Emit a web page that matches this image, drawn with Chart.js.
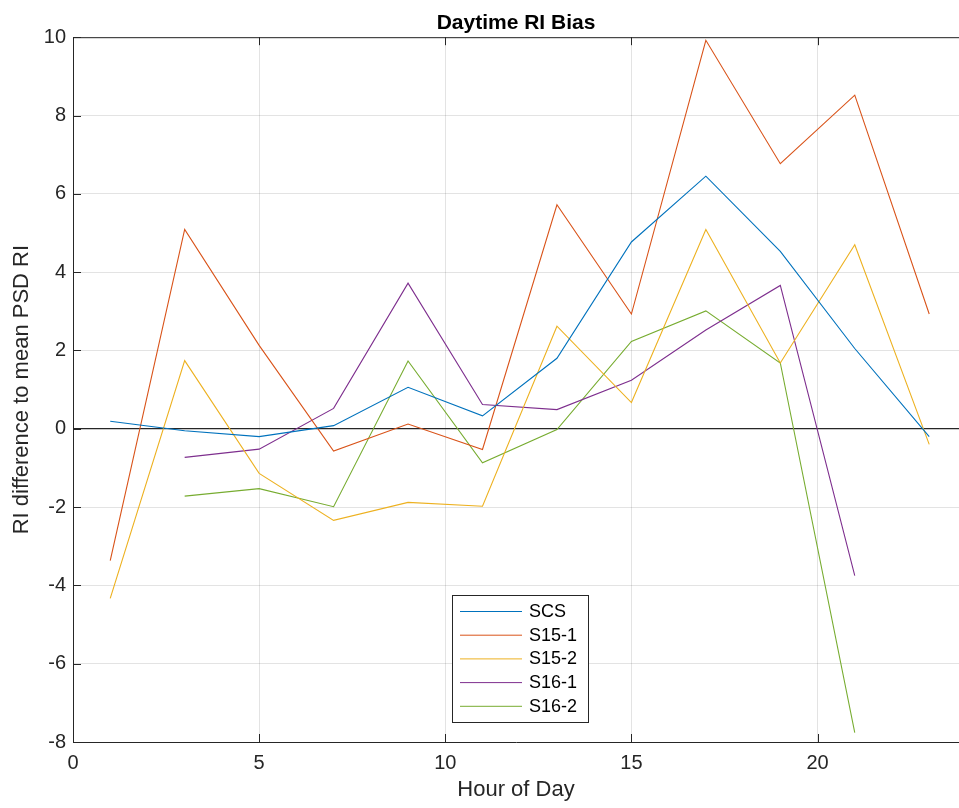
<!DOCTYPE html>
<html>
<head>
<meta charset="utf-8">
<script src="https://cdn.jsdelivr.net/npm/chart.js@4.4.1/dist/chart.umd.min.js"></script>
<style>
  html, body { margin: 0; padding: 0; background: #fff; }
  #wrap { width: 959px; height: 808px; }
</style>
</head>
<body>
<div id="wrap"><canvas id="myChart" width="959" height="808"></canvas></div>
<script>
// hours (x) and RI bias per sensor
const hours = [1, 3, 5, 7, 9, 11, 13, 15, 17, 19, 21, 23];
const scs = [0.19, -0.05, -0.2, 0.08, 1.06, 0.33, 1.8, 4.77, 6.45, 4.53, 2.05, -0.2];
const s15_1 = [-3.37, 5.09, 2.13, -0.57, 0.12, -0.53, 5.72, 2.93, 9.92, 6.77, 8.52, 2.93];
const s15_2 = [-4.33, 1.74, -1.14, -2.34, -1.88, -1.98, 2.62, 0.67, 5.09, 1.68, 4.7, -0.4];
const s16_1 = [null, -0.73, -0.52, 0.52, 3.72, 0.62, 0.49, 1.24, 2.52, 3.66, -3.75, null];
const s16_2 = [null, -1.72, -1.53, -1.99, 1.73, -0.87, -0.02, 2.23, 3.01, 1.68, -7.76, null];

const seriesNames = ["SCS", "S15-1", "S15-2", "S16-1", "S16-2"];
const seriesColors = ["#0072BD", "#D95319", "#EDB120", "#7E2F8E", "#77AC30"];

const xTicks = [0, 5, 10, 15, 20];
const yTicks = [-8, -6, -4, -2, 0, 2, 4, 6, 8, 10];

const axisColor = "#262626";
const gridColor = "rgba(38,38,38,0.13)";
const fontFamily = "'Liberation Sans', Arial, Helvetica, sans-serif";

function toPoints(vals) {
  const pts = [];
  vals.forEach((v, i) => {
    if (v !== null) pts.push({ x: hours[i], y: v });
  });
  return pts;
}

const allSeries = [scs, s15_1, s15_2, s16_1, s16_2];

// inward tick marks, top frame line and the legend box
const framePlugin = {
  id: "frame",
  afterDraw(chart) {
    const ctx = chart.ctx;
    const area = chart.chartArea;
    const xs = chart.scales.x;
    const ys = chart.scales.y;
    ctx.save();
    ctx.strokeStyle = axisColor;
    ctx.lineWidth = 1;
    ctx.beginPath();
    ctx.moveTo(area.left, area.top + 0.5);
    ctx.lineTo(area.right, area.top + 0.5);
    xTicks.forEach((t) => {
      const px = Math.round(xs.getPixelForValue(t)) + 0.5;
      ctx.moveTo(px, area.bottom);
      ctx.lineTo(px, area.bottom - 8);
      ctx.moveTo(px, area.top);
      ctx.lineTo(px, area.top + 8);
    });
    yTicks.forEach((t) => {
      const py = Math.round(ys.getPixelForValue(t)) + 0.5;
      ctx.moveTo(area.left, py);
      ctx.lineTo(area.left + 8, py);
    });
    ctx.stroke();

    // legend
    const lx = 452, ly = 595, lw = 136, lh = 127, row = 23.7;
    ctx.fillStyle = "#fff";
    ctx.fillRect(lx, ly, lw, lh);
    ctx.strokeStyle = axisColor;
    ctx.strokeRect(lx + 0.5, ly + 0.5, lw, lh);
    ctx.font = "18px " + fontFamily;
    ctx.textBaseline = "middle";
    ctx.textAlign = "left";
    chart.data.datasets.forEach((ds, i) => {
      const yy = ly + 16 + i * row;
      ctx.strokeStyle = ds.borderColor;
      ctx.lineWidth = 1;
      ctx.beginPath();
      ctx.moveTo(lx + 8, yy + 0.5);
      ctx.lineTo(lx + 70, yy + 0.5);
      ctx.stroke();
      ctx.fillStyle = "#000";
      ctx.fillText(ds.label, lx + 77, yy + 1);
    });
    ctx.restore();
  },
};

const ctx = document.getElementById("myChart").getContext("2d");

new Chart(ctx, {
  type: "scatter",
  data: {
    datasets: allSeries.map((vals, i) => ({
      label: seriesNames[i],
      data: toPoints(vals),
      showLine: true,
      borderColor: seriesColors[i],
      backgroundColor: seriesColors[i],
      borderWidth: 1.1,
      pointRadius: 0,
      pointHoverRadius: 0,
      tension: 0,
    })),
  },
  options: {
    responsive: false,
    animation: false,
    events: [],
    layout: { padding: { top: 6, right: 0, left: 0, bottom: 0 } },
    plugins: {
      legend: { display: false },
      tooltip: { enabled: false },
      title: {
        display: true,
        text: "Daytime RI Bias",
        fullSize: false,
        color: "#000",
        font: { family: fontFamily, size: 21, weight: "bold" },
        padding: { top: 5, bottom: 1 },
      },
    },
    scales: {
      x: {
        type: "linear",
        min: 0,
        max: 23.8,
        afterBuildTicks: (scale) => {
          scale.ticks = xTicks.map((v) => ({ value: v }));
        },
        afterFit: (scale) => {
          scale.height = 66;
        },
        grid: { color: gridColor, drawTicks: false },
        border: { color: axisColor, width: 1 },
        ticks: {
          color: axisColor,
          padding: 9,
          maxRotation: 0,
          font: { family: fontFamily, size: 20 },
        },
        title: {
          display: true,
          text: "Hour of Day",
          color: axisColor,
          padding: { top: 0, bottom: 5 },
          font: { family: fontFamily, size: 22 },
        },
      },
      y: {
        type: "linear",
        min: -8,
        max: 10,
        afterBuildTicks: (scale) => {
          scale.ticks = yTicks.map((v) => ({ value: v }));
        },
        afterFit: (scale) => {
          scale.width = 73;
        },
        grid: {
          color: (c) => (c.tick && c.tick.value === 0 ? axisColor : gridColor),
          lineWidth: (c) => (c.tick && c.tick.value === 0 ? 1.3 : 1),
          drawTicks: false,
        },
        border: { color: axisColor, width: 1 },
        ticks: {
          color: axisColor,
          padding: 7,
          font: { family: fontFamily, size: 20 },
        },
        title: {
          display: true,
          text: "RI difference to mean PSD RI",
          color: axisColor,
          padding: { top: 9, bottom: 0 },
          font: { family: fontFamily, size: 22 },
        },
      },
    },
  },
  plugins: [framePlugin],
});
</script>
</body>
</html>
